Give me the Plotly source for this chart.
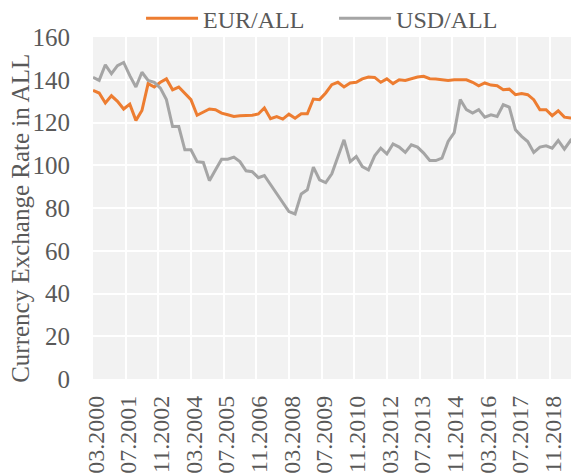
import pandas as pd
import plotly.graph_objects as go

# Quarterly observations starting 03.2000
start_date = "2000-03-01"
n_obs = 80
dates = pd.date_range(start_date, periods=n_obs, freq="3MS")

eur_all = [135.0, 133.8, 129.1, 132.5, 129.9, 126.3, 128.6, 121.0, 125.6, 138.2,
           136.6, 138.8, 140.4, 135.3, 136.6, 133.8, 130.7, 123.4, 124.7, 126.3,
           126.0, 124.4, 123.6, 122.8, 123.1, 123.3, 123.4, 124.0, 126.8, 121.8,
           122.8, 121.6, 123.9, 122.0, 124.1, 124.1, 131.0, 130.7, 133.8, 137.7,
           138.8, 136.6, 138.5, 138.8, 140.4, 141.3, 141.1, 138.8, 140.4, 138.2,
           140.0, 139.7, 140.4, 141.3, 141.6, 140.5, 140.4, 140.0, 139.7, 140.0,
           140.0, 140.0, 138.8, 137.2, 138.5, 137.5, 137.2, 135.3, 135.6, 133.0,
           133.5, 133.0, 130.7, 126.0, 126.0, 123.2, 125.5, 122.5, 122.1, 121.6]

usd_all = [141.1, 139.7, 147.0, 142.8, 146.6, 148.1, 141.9, 136.6, 143.5, 139.7,
           138.8, 136.1, 130.7, 118.1, 118.1, 107.2, 107.2, 101.7, 101.3, 92.8,
           97.8, 102.8, 102.8, 103.8, 101.7, 97.4, 97.0, 94.2, 95.2, 90.8,
           86.9, 82.5, 78.3, 77.2, 86.6, 88.5, 99.1, 93.2, 91.9, 96.0,
           104.1, 111.9, 101.7, 104.1, 99.4, 97.8, 104.4, 108.0, 105.3, 110.0,
           108.5, 106.0, 109.6, 108.5, 105.7, 102.2, 102.2, 103.3, 111.1, 115.3,
           130.7, 126.0, 124.4, 126.0, 122.5, 123.6, 122.8, 128.3, 127.2, 116.6,
           113.5, 111.1, 106.0, 108.5, 109.1, 108.0, 111.6, 107.5, 111.6, 108.5]

tick_labels = ["03.2000", "07.2001", "11.2002", "03.2004", "07.2005", "11.2006",
               "03.2008", "07.2009", "11.2010", "03.2012", "07.2013", "11.2014",
               "03.2016", "07.2017", "11.2018"]
tick_dates = [pd.to_datetime("01." + t, format="%d.%m.%Y") for t in tick_labels]

y_ticks = [0, 20, 40, 60, 80, 100, 120, 140, 160]

FONT = "Liberation Serif, Times New Roman, serif"
TXT = "#595959"

fig = go.Figure()
fig.add_trace(go.Scatter(x=dates, y=eur_all, mode="lines", name="EUR/ALL",
                         line=dict(color="#ED7D31", width=3)))
fig.add_trace(go.Scatter(x=dates, y=usd_all, mode="lines", name="USD/ALL",
                         line=dict(color="#A5A5A5", width=3)))

# page has an 8px body margin, so the figure is sized 8px smaller
fig.update_layout(
    width=571, height=467,
    margin=dict(l=85, r=0, t=29, b=96, pad=0, autoexpand=False),
    paper_bgcolor="white",
    plot_bgcolor="#F2F2F2",
    font=dict(family=FONT, color=TXT, size=24),
    showlegend=True,
    legend=dict(orientation="h", xref="container", yref="container",
                x=0.233, xanchor="left", y=0.977, yanchor="middle",
                font=dict(size=24, color=TXT, family=FONT), bgcolor="rgba(0,0,0,0)",
                itemwidth=52, entrywidth=126, entrywidthmode="pixels", tracegroupgap=0),
    xaxis=dict(
        type="date",
        range=["2000-03-01", "2020-01-05"],
        tickmode="array", tickvals=tick_dates, ticktext=tick_labels,
        tickangle=-90, showgrid=True, gridcolor="white", gridwidth=2,
        zeroline=False, showline=False, ticks="",
        ticklabelstandoff=11, ticklabelshift=3,
        tickfont=dict(size=24, color=TXT, family=FONT),
    ),
    yaxis=dict(
        range=[0, 160], tickmode="array", tickvals=y_ticks,
        showgrid=True, gridcolor="white", gridwidth=2,
        zeroline=False, showline=False, ticks="",
        ticklabelstandoff=22,
        tickfont=dict(size=25, color=TXT, family=FONT),
    ),
    annotations=[dict(text="Currency Exchange Rate in ALL", textangle=-90,
                      xref="paper", yref="paper", x=-0.149, y=0.47,
                      xanchor="center", yanchor="middle", showarrow=False,
                      font=dict(size=25, color=TXT, family=FONT))],
)

fig.write_html("out.html")
